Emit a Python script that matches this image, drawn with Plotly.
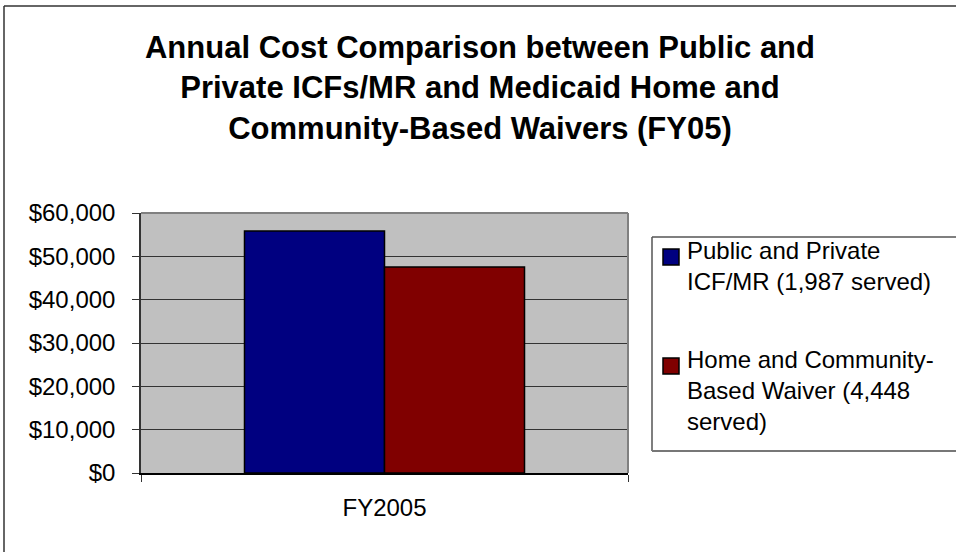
import plotly.graph_objects as go

# ---- data ----
categories = ["FY2005"]
series_names = ["Public and Private<br>ICF/MR (1,987 served)",
                "Home and Community-<br>Based Waiver (4,448<br>served)"]
series_values = [[55850], [47550]]
series_colors = ["#000080", "#800000"]
y_ticks = [0, 10000, 20000, 30000, 40000, 50000, 60000]
title_text = ("<b>Annual Cost Comparison between Public and<br>"
              "Private ICFs/MR and Medicaid Home and<br>"
              "Community-Based Waivers (FY05)</b>")

W, H = 956, 552
L, R, T, B = 141, 628, 213, 473  # plot area pixel bounds


def px(x):
    return (x - L) / (R - L)


def py(y):
    return (B - y) / (B - T)


FONT = "Arial, Liberation Sans, sans-serif"

fig = go.Figure()
for name, vals, col in zip(series_names, series_values, series_colors):
    fig.add_trace(go.Bar(x=categories, y=vals, name=name,
                         marker=dict(color=col, line=dict(color="black", width=1.5)),
                         showlegend=False))


def seg(x0, y0, x1, y1, color, width):
    return dict(type="line", xref="paper", yref="paper",
                x0=px(x0), x1=px(x1), y0=py(y0), y1=py(y1),
                line=dict(color=color, width=width), layer="above")


shapes = [
    # outer chart frame (left and top edges visible)
    seg(4, 6, 4, 552, "#333333", 1.5),
    seg(4, 6, 956, 6, "#333333", 1.5),
    # plot-area border (top and right)
    seg(L, T, R, T, "#808080", 2),
    seg(R, T, R, B, "#808080", 2),
    # legend frame (extends past the right edge)
    seg(652, 237, 652, 451, "#555555", 1.5),
    seg(652, 237, 956, 237, "#555555", 1.5),
    seg(652, 451, 956, 451, "#777777", 2),
]

annotations = []
leg_marker_tops = [249, 358]
leg_text_tops = [235, 344]
for name, col, mt, tt in zip(series_names, series_colors, leg_marker_tops, leg_text_tops):
    shapes.append(dict(type="rect", xref="paper", yref="paper",
                       x0=px(663), x1=px(679), y0=py(mt + 16), y1=py(mt),
                       fillcolor=col, line=dict(color="black", width=1.5), layer="above"))
    annotations.append(dict(text=name, xref="paper", yref="paper",
                            x=px(685), y=py(tt), xanchor="left", yanchor="top",
                            align="left", showarrow=False,
                            font=dict(family=FONT, size=24, color="black")))

fig.update_layout(
    width=W, height=H,
    margin=dict(l=L, r=W - R, t=T, b=H - B, autoexpand=False),
    paper_bgcolor="white",
    plot_bgcolor="#C0C0C0",
    barmode="group",
    bargap=0.425,
    bargroupgap=0,
    font=dict(family=FONT, size=24, color="black"),
    title=dict(text=title_text, x=480 / W, xanchor="center", xref="container",
               y=1 - 58 / H, yanchor="top", yref="container",
               font=dict(family=FONT, size=31, color="black")),
    xaxis=dict(type="category", range=[-0.5, 0.5], showgrid=False,
               showline=True, linecolor="black", linewidth=1.5,
               ticks="outside", tickson="boundaries", ticklen=7, tickcolor="#333333",
               tickfont=dict(family=FONT, size=24, color="black"),
               ticklabelstandoff=12),
    yaxis=dict(range=[0, 60000], tickvals=y_ticks, tickformat="$,",
               showgrid=True, gridcolor="#333333", gridwidth=1,
               showline=True, linecolor="#333333", linewidth=1.5,
               ticks="outside", ticklen=7, tickcolor="#333333",
               tickfont=dict(family=FONT, size=24, color="black"),
               ticklabelstandoff=12, zeroline=False),
    shapes=shapes,
    annotations=annotations,
)

fig.write_html("out.html",
               config={"displayModeBar": False},
               post_script="document.body.style.margin='0';document.body.style.overflow='hidden';")
